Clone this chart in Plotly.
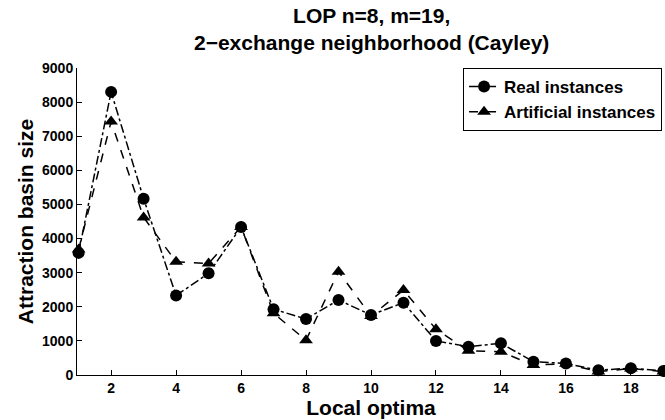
import plotly.graph_objects as go

local_optima = list(range(1, 20))
real_instances = [3580, 8300, 5170, 2330, 2980, 4340, 1930, 1640, 2200, 1760,
                  2120, 1000, 830, 930, 390, 340, 140, 200, 120]
artificial_instances = [3680, 7430, 4620, 3320, 3270, 4340, 1810, 1020, 3030, 1730,
                        2490, 1340, 710, 680, 290, 330, 100, 190, 100]
x_ticks = [2, 4, 6, 8, 10, 12, 14, 16, 18]
y_ticks = list(range(0, 9001, 1000))

FONT = "Liberation Sans, Arial, Helvetica, sans-serif"

fig = go.Figure()
fig.add_trace(go.Scatter(
    x=local_optima, y=real_instances, name="<b>Real instances</b>",
    mode="lines+markers",
    line=dict(color="black", width=1.5, dash="dashdot"),
    marker=dict(symbol="circle", size=12, color="black"),
    cliponaxis=False,
))
fig.add_trace(go.Scatter(
    x=local_optima, y=artificial_instances, name="<b>Artificial instances</b>",
    mode="lines+markers",
    line=dict(color="black", width=1.5, dash="dash"),
    marker=dict(symbol="triangle-up", size=12, color="black"),
    cliponaxis=False,
))

fig.add_annotation(
    text="<b>LOP n=8, m=19,<br>2\u2212exchange neighborhood (Cayley)</b>",
    xref="paper", yref="paper", x=0.5, y=1.215,
    xanchor="center", yanchor="top", showarrow=False,
    font=dict(size=21, family=FONT, color="black"),
)

fig.update_layout(
    width=665, height=420,
    margin=dict(l=77, r=0, t=68, b=45),
    paper_bgcolor="white", plot_bgcolor="white",
    font=dict(family=FONT, color="black", size=13),
    xaxis=dict(
        range=[0.95, 19.05], tickvals=x_ticks,
        ticktext=[f"<b>{v}</b>" for v in x_ticks],
        ticks="inside", ticklen=5, tickcolor="black",
        showline=True, linecolor="black", linewidth=1,
        showgrid=False, zeroline=False,
        tickfont=dict(size=14),
        title=dict(text="<b>Local optima</b>", font=dict(size=21), standoff=0),
    ),
    yaxis=dict(
        range=[0, 9000], tickvals=y_ticks,
        ticktext=[f"<b>{v}</b>" for v in y_ticks],
        ticks="inside", ticklen=5, tickcolor="black",
        showline=True, linecolor="black", linewidth=1,
        showgrid=False, zeroline=False,
        tickfont=dict(size=14),
        title=dict(text="<b>Attraction basin size</b>", font=dict(size=21), standoff=2),
    ),
    legend=dict(
        x=0.995, y=1.0, xanchor="right", yanchor="top",
        bordercolor="black", borderwidth=1, bgcolor="white",
        font=dict(size=17), tracegroupgap=0, itemwidth=30,
    ),
    showlegend=True,
)

fig.write_html("out.html")
